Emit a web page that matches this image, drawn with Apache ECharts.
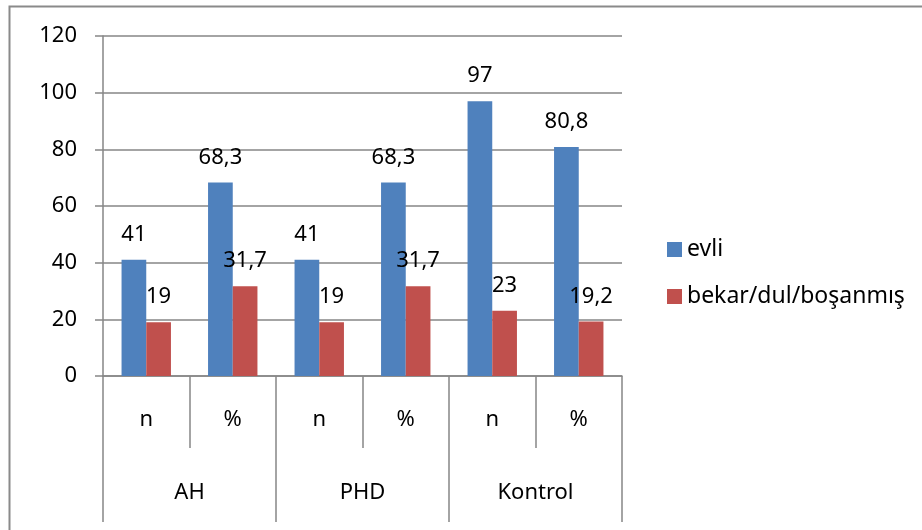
<!DOCTYPE html>
<html>
<head>
<meta charset="utf-8">
<script src="https://cdn.jsdelivr.net/npm/echarts@6/dist/echarts.min.js"></script>
<style>
  html, body { margin: 0; padding: 0; background: #fff; }
  #chart { width: 922px; height: 530px; }
</style>
</head>
<body>
<div id="chart"></div>
<script>
// Inner category row (n / %) and the outer group row
const categories = ['n', '%', 'n', '%', 'n', '%'];
const groups = ['AH', 'PHD', 'Kontrol'];

// Marital status counts and percentages per group
const evli = [41, 68.3, 41, 68.3, 97, 80.8];
const bekar = [19, 31.7, 19, 31.7, 23, 19.2];

const seriesNames = ['evli', 'bekar/dul/boşanmış'];

// Value axis range
const yMin = 0;
const yMax = 120;
const yStep = 20;

const FONT = 'Noto Sans';
const AXIS_GRAY = '#868686';

const chart = echarts.init(document.getElementById('chart'), null, { renderer: 'canvas' });

const labelStyle = {
  show: true,
  position: 'top',
  distance: 14,
  color: '#000',
  fontFamily: FONT,
  fontSize: 22,
  formatter: p => String(p.value).replace('.', ',')
};

chart.setOption({
  animation: false,
  backgroundColor: '#fff',
  textStyle: { fontFamily: FONT },
  graphic: [{
    type: 'rect',
    shape: { x: 9.5, y: 6.5, width: 940, height: 560 },
    style: { fill: 'none', stroke: '#8a8a8a', lineWidth: 2 },
    silent: true,
    z: 0
  }],
  grid: { left: 103, right: 300, top: 36, bottom: 154, containLabel: false },
  legend: {
    orient: 'vertical',
    left: 662,
    top: 233,
    itemWidth: 15,
    itemHeight: 15,
    itemGap: 24,
    icon: 'rect',
    textStyle: { color: '#000', fontFamily: FONT, fontSize: 23, padding: [0, 0, 0, 0] },
    data: seriesNames
  },
  xAxis: [{
    type: 'category',
    data: categories,
    gridIndex: 0,
    position: 'bottom',
    axisLine: { show: true, lineStyle: { color: AXIS_GRAY, width: 1.5 } },
    axisTick: { show: true, interval: 0, length: 72, lineStyle: { color: AXIS_GRAY, width: 1.5 } },
    axisLabel: { interval: 0, margin: 33, color: '#000', fontFamily: FONT, fontSize: 22 }
  }, {
    type: 'category',
    data: groups,
    gridIndex: 0,
    position: 'bottom',
    offset: 72,
    axisLine: { show: false },
    axisTick: { show: true, interval: 0, length: 74, lineStyle: { color: AXIS_GRAY, width: 1.5 } },
    axisLabel: { interval: 0, margin: 34, color: '#000', fontFamily: FONT, fontSize: 22 }
  }],
  yAxis: {
    type: 'value',
    min: yMin,
    max: yMax,
    interval: yStep,
    axisLine: { show: true, lineStyle: { color: AXIS_GRAY, width: 1.5 } },
    axisTick: { show: true, length: 8, lineStyle: { color: AXIS_GRAY, width: 1.5 } },
    axisLabel: { margin: 26, color: '#000', fontFamily: FONT, fontSize: 22 },
    splitLine: { show: true, lineStyle: { color: AXIS_GRAY, width: 1.5 } }
  },
  series: [{
    name: seriesNames[0],
    type: 'bar',
    xAxisIndex: 0,
    data: evli,
    barWidth: 24.7,
    barGap: '0%',
    itemStyle: { color: '#4F81BD' },
    label: labelStyle
  }, {
    name: seriesNames[1],
    type: 'bar',
    xAxisIndex: 0,
    data: bekar,
    barWidth: 24.7,
    barGap: '0%',
    itemStyle: { color: '#C0504D' },
    label: labelStyle
  }]
});
</script>
</body>
</html>
